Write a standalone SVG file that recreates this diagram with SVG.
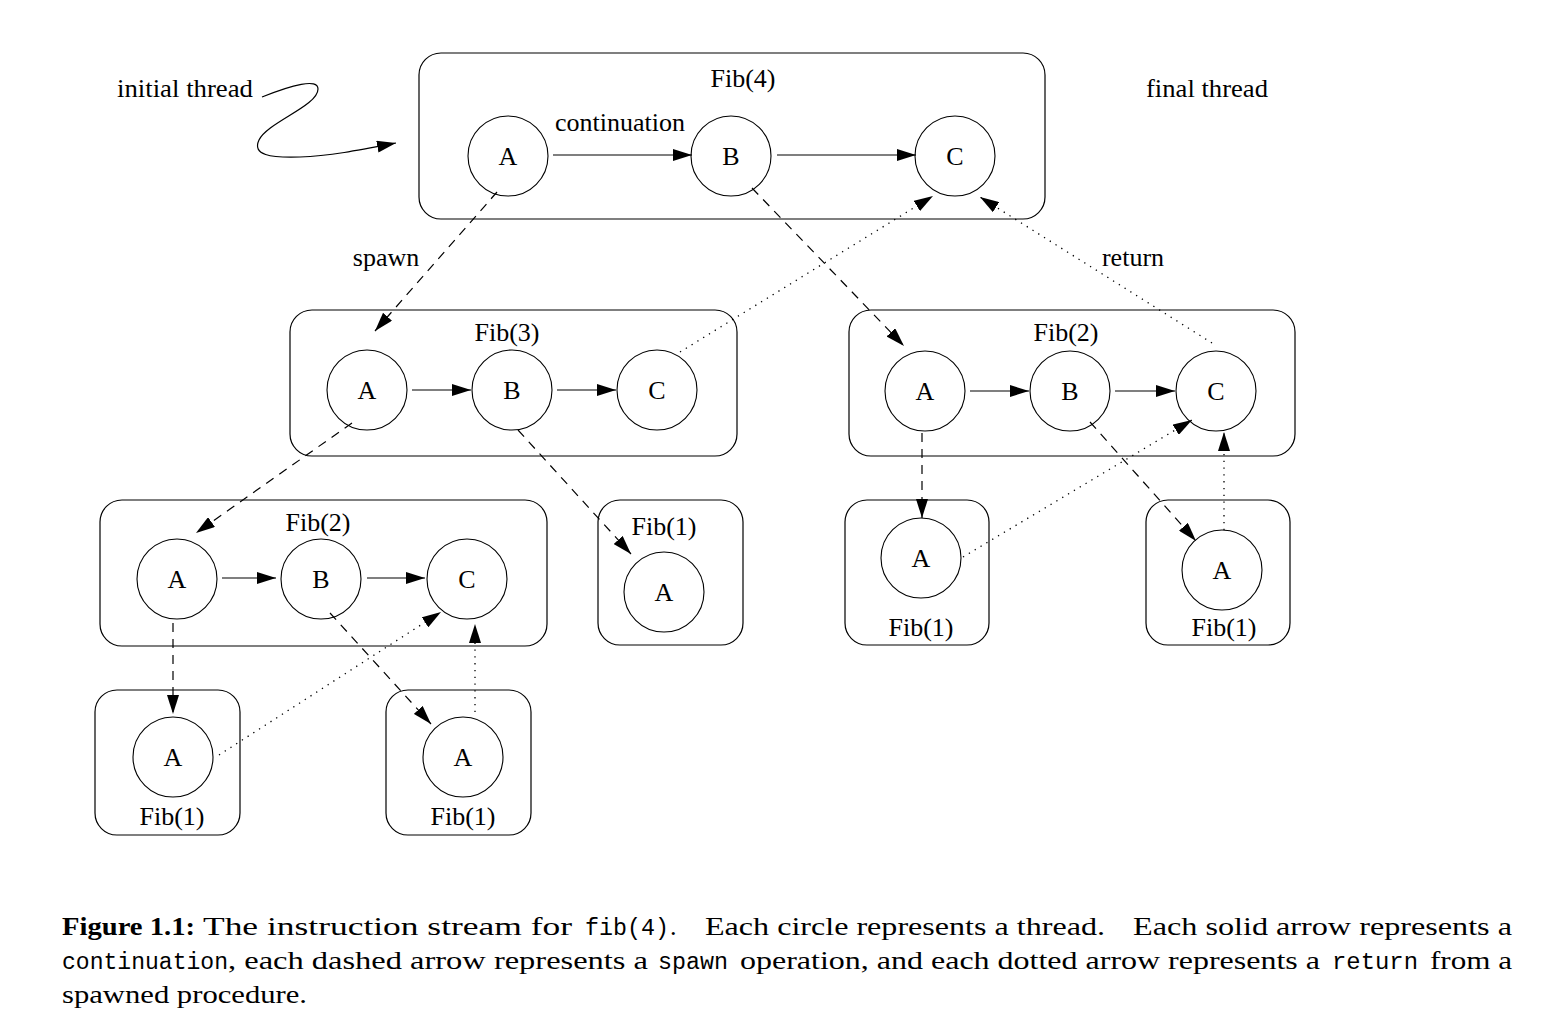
<svg xmlns="http://www.w3.org/2000/svg" width="1558" height="1032" viewBox="0 0 1558 1032">
<style>
.box{fill:none;stroke:#000;stroke-width:1.2}
.node{fill:#fff;stroke:#000;stroke-width:1.1}
.t{font-family:"Liberation Serif","Times New Roman",serif;font-size:26px;fill:#000}
.c{text-anchor:middle}
.solid{stroke:#000;stroke-width:1.2;fill:none}
.dash{stroke:#000;stroke-width:1.2;fill:none;stroke-dasharray:9 7}
.dot{stroke:#000;stroke-width:1.3;fill:none;stroke-dasharray:1.3 5.5}
.cap{font-family:"Liberation Serif","Times New Roman",serif;font-size:26px;fill:#000}
.b{font-weight:bold}
.mono{font-family:"Liberation Mono","Courier New",monospace;font-size:23px;fill:#000}
</style>
<defs>
<marker id="ah" markerUnits="userSpaceOnUse" markerWidth="20" markerHeight="12" refX="19" refY="6" orient="auto">
<path d="M0,0 L19,6 L0,12 Z" fill="#000"/>
</marker>
</defs>

<text class="t" x="117" y="97" textLength="136" lengthAdjust="spacingAndGlyphs">initial thread</text>
<text class="t" x="1146" y="97" textLength="122" lengthAdjust="spacingAndGlyphs">final thread</text>

<g id="fib4">
<rect class="box" x="419" y="53" width="626" height="166" rx="22"/>
<text class="t c" x="743" y="87">Fib(4)</text>
<text class="t c" x="620" y="131">continuation</text>
<g id="fib4A"><circle class="node" cx="508" cy="156" r="40"/><text class="t c" x="508" y="165">A</text></g>
<g id="fib4B"><circle class="node" cx="731" cy="156" r="40"/><text class="t c" x="731" y="165">B</text></g>
<g id="fib4C"><circle class="node" cx="955" cy="156" r="40"/><text class="t c" x="955" y="165">C</text></g>
</g>

<g id="fib3">
<rect class="box" x="290" y="310" width="447" height="146" rx="22"/>
<text class="t c" x="507" y="341">Fib(3)</text>
<g id="fib3A"><circle class="node" cx="367" cy="390" r="40"/><text class="t c" x="367" y="399">A</text></g>
<g id="fib3B"><circle class="node" cx="512" cy="390" r="40"/><text class="t c" x="512" y="399">B</text></g>
<g id="fib3C"><circle class="node" cx="657" cy="390" r="40"/><text class="t c" x="657" y="399">C</text></g>
</g>

<g id="fib2R">
<rect class="box" x="849" y="310" width="446" height="146" rx="22"/>
<text class="t c" x="1066" y="341">Fib(2)</text>
<g id="fib2RA"><circle class="node" cx="925" cy="391" r="40"/><text class="t c" x="925" y="400">A</text></g>
<g id="fib2RB"><circle class="node" cx="1070" cy="391" r="40"/><text class="t c" x="1070" y="400">B</text></g>
<g id="fib2RC"><circle class="node" cx="1216" cy="391" r="40"/><text class="t c" x="1216" y="400">C</text></g>
</g>

<g id="fib2L">
<rect class="box" x="100" y="500" width="447" height="146" rx="22"/>
<text class="t c" x="318" y="531">Fib(2)</text>
<g id="fib2LA"><circle class="node" cx="177" cy="579" r="40"/><text class="t c" x="177" y="588">A</text></g>
<g id="fib2LB"><circle class="node" cx="321" cy="579" r="40"/><text class="t c" x="321" y="588">B</text></g>
<g id="fib2LC"><circle class="node" cx="467" cy="579" r="40"/><text class="t c" x="467" y="588">C</text></g>
</g>

<g id="fib1M">
<rect class="box" x="598" y="500" width="145" height="145" rx="22"/>
<text class="t c" x="664" y="535">Fib(1)</text>
<g id="fib1MA"><circle class="node" cx="664" cy="592" r="40"/><text class="t c" x="664" y="601">A</text></g>
</g>

<g id="fib1R1">
<rect class="box" x="845" y="500" width="144" height="145" rx="22"/>
<text class="t c" x="921" y="636">Fib(1)</text>
<g id="fib1R1A"><circle class="node" cx="921" cy="558" r="40"/><text class="t c" x="921" y="567">A</text></g>
</g>

<g id="fib1R2">
<rect class="box" x="1146" y="500" width="144" height="145" rx="22"/>
<text class="t c" x="1224" y="636">Fib(1)</text>
<g id="fib1R2A"><circle class="node" cx="1222" cy="570" r="40"/><text class="t c" x="1222" y="579">A</text></g>
</g>

<g id="fib1L1">
<rect class="box" x="95" y="690" width="145" height="145" rx="22"/>
<text class="t c" x="172" y="825">Fib(1)</text>
<g id="fib1L1A"><circle class="node" cx="173" cy="757" r="40"/><text class="t c" x="173" y="766">A</text></g>
</g>

<g id="fib1L2">
<rect class="box" x="386" y="690" width="145" height="145" rx="22"/>
<text class="t c" x="463" y="825">Fib(1)</text>
<g id="fib1L2A"><circle class="node" cx="463" cy="757" r="40"/><text class="t c" x="463" y="766">A</text></g>
</g>

<g id="connectors">
<path class="solid" d="M262,97 C292,85 318,78 318,89 C318,106 268,122 259,140 C252,155 270,158 300,157 C330,156 360,150 396,143" marker-end="url(#ah)"/>
<line class="solid" x1="553" y1="155" x2="692" y2="155" marker-end="url(#ah)"/>
<line class="solid" x1="777" y1="155" x2="916" y2="155" marker-end="url(#ah)"/>
<line class="solid" x1="412" y1="390" x2="471" y2="390" marker-end="url(#ah)"/>
<line class="solid" x1="557" y1="390" x2="616" y2="390" marker-end="url(#ah)"/>
<line class="solid" x1="970" y1="391" x2="1029" y2="391" marker-end="url(#ah)"/>
<line class="solid" x1="1115" y1="391" x2="1175" y2="391" marker-end="url(#ah)"/>
<line class="solid" x1="222" y1="578" x2="276" y2="578" marker-end="url(#ah)"/>
<line class="solid" x1="367" y1="578" x2="425" y2="578" marker-end="url(#ah)"/>

<line class="dash" x1="497" y1="192" x2="375" y2="331" marker-end="url(#ah)"/>
<line class="dash" x1="752" y1="188" x2="904" y2="346" marker-end="url(#ah)"/>
<line class="dash" x1="352" y1="423" x2="196" y2="533" marker-end="url(#ah)"/>
<line class="dash" x1="518" y1="430" x2="631" y2="554" marker-end="url(#ah)"/>
<line class="dash" x1="922" y1="433" x2="922" y2="518" marker-end="url(#ah)"/>
<line class="dash" x1="1090" y1="422" x2="1196" y2="541" marker-end="url(#ah)"/>
<line class="dash" x1="173" y1="623" x2="173" y2="714" marker-end="url(#ah)"/>
<line class="dash" x1="330" y1="613" x2="431" y2="724" marker-end="url(#ah)"/>

<line class="dot" x1="680" y1="352" x2="933" y2="196" marker-end="url(#ah)"/>
<line class="dot" x1="1212" y1="343" x2="980" y2="197" marker-end="url(#ah)"/>
<line class="dot" x1="963" y1="557" x2="1192" y2="420" marker-end="url(#ah)"/>
<line class="dot" x1="1224" y1="530" x2="1224" y2="432" marker-end="url(#ah)"/>
<line class="dot" x1="219" y1="755" x2="441" y2="612" marker-end="url(#ah)"/>
<line class="dot" x1="475" y1="712" x2="475" y2="624" marker-end="url(#ah)"/>

<text class="t c" x="386" y="266">spawn</text>
<text class="t c" x="1133" y="266">return</text>
</g>

<g id="caption">
<text class="cap b" x="62" y="935" textLength="133" lengthAdjust="spacingAndGlyphs">Figure 1.1:</text>
<text class="cap" x="203" y="935" textLength="369" lengthAdjust="spacingAndGlyphs">The instruction stream for</text>
<text class="mono" x="585" y="935" textLength="84" lengthAdjust="spacingAndGlyphs">fib(4)</text>
<text class="cap" x="670" y="935">.</text>
<text class="cap" x="705" y="935" textLength="400" lengthAdjust="spacingAndGlyphs">Each circle represents a thread.</text>
<text class="cap" x="1133" y="935" textLength="379" lengthAdjust="spacingAndGlyphs">Each solid arrow represents a</text>

<text class="mono" x="62" y="969" textLength="166" lengthAdjust="spacingAndGlyphs">continuation</text>
<text class="cap" x="228" y="969" textLength="420" lengthAdjust="spacingAndGlyphs">, each dashed arrow represents a</text>
<text class="mono" x="658" y="969" textLength="70" lengthAdjust="spacingAndGlyphs">spawn</text>
<text class="cap" x="740" y="969" textLength="580" lengthAdjust="spacingAndGlyphs">operation, and each dotted arrow represents a</text>
<text class="mono" x="1332" y="969" textLength="86" lengthAdjust="spacingAndGlyphs">return</text>
<text class="cap" x="1430" y="969" textLength="82" lengthAdjust="spacingAndGlyphs">from a</text>

<text class="cap" x="62" y="1003" textLength="245" lengthAdjust="spacingAndGlyphs">spawned procedure.</text>
</g>
</svg>
